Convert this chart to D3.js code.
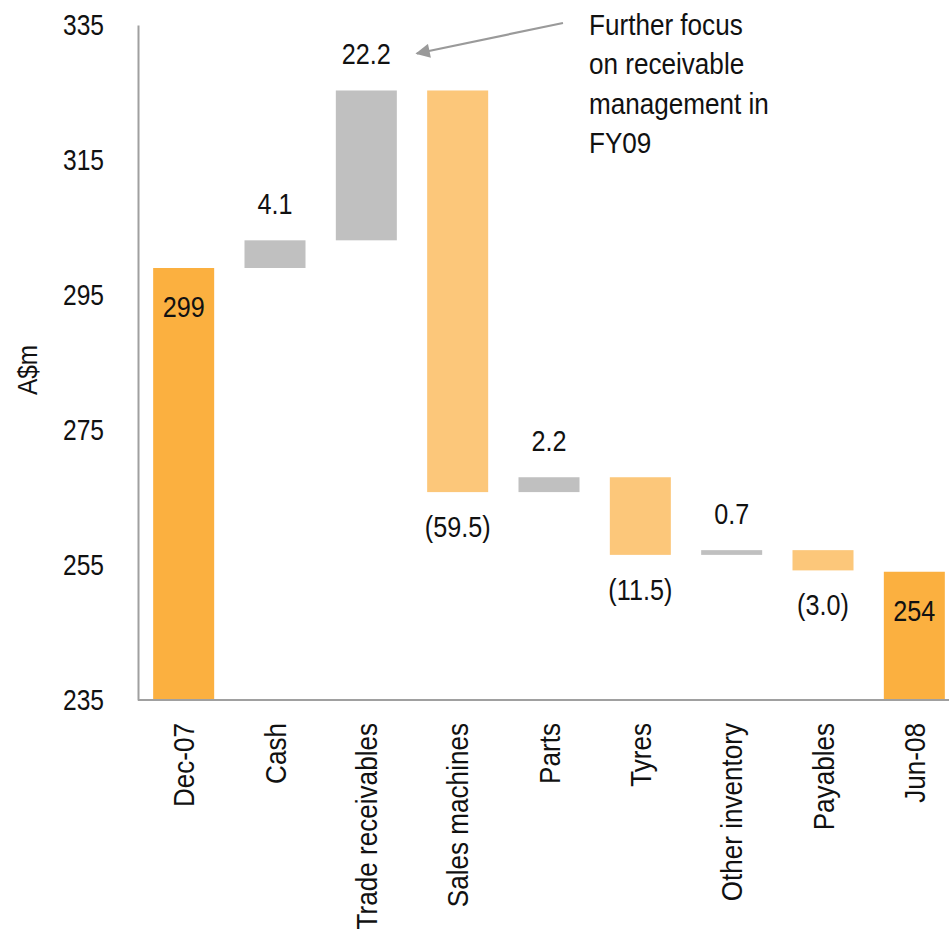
<!DOCTYPE html>
<html>
<head>
<meta charset="utf-8">
<script src="https://cdn.jsdelivr.net/npm/d3@7/dist/d3.min.js"></script>
<style>
  html, body { margin: 0; padding: 0; background: #fff; }
  svg { display: block; }
  text { font-family: "Liberation Sans Narrow", "Arial Narrow", "Liberation Sans", sans-serif; fill: #111; }
</style>
</head>
<body>
<svg id="chart" width="949" height="934"></svg>
<script>
// Working capital bridge, Dec-07 to Jun-08 (A$m)
const categories = ["Dec-07", "Cash", "Trade receivables", "Sales machines", "Parts", "Tyres", "Other inventory", "Payables", "Jun-08"];
const values     = [299, 4.1, 22.2, -59.5, 2.2, -11.5, 0.7, -3.0, 254];
const kinds      = ["total", "change", "change", "change", "change", "change", "change", "change", "total"];
const yTicks     = [235, 255, 275, 295, 315, 335];
const noteLines  = ["Further focus", "on receivable", "management in", "FY09"];
const noteTarget = "Trade receivables";

const colors = { total: "#FBB040", up: "#C0C0C0", down: "#FCC77A" };
const FONT = 30;

// Squeeze text horizontally (along its own baseline) to get a condensed face
function condense(sel, s) {
  sel.each(function () {
    const el = d3.select(this);
    const tx = +el.attr("x") || 0, ty = +el.attr("y") || 0;
    const base = el.attr("transform") || "";
    el.attr("transform", `${base} translate(${tx},${ty}) scale(${s},1) translate(${-tx},${-ty})`);
  });
}

// Running cumulative positions for each step
let running = 0;
const bars = categories.map((c, i) => {
  const v = values[i];
  let y0, y1;
  if (kinds[i] === "total") { y0 = d3.min(yTicks); y1 = v; running = v; }
  else { y0 = running; y1 = running + v; running = y1; }
  return { cat: c, value: v, kind: kinds[i], lo: Math.min(y0, y1), hi: Math.max(y0, y1) };
});

const svg = d3.select("#chart");
const x = d3.scaleBand().domain(categories).range([138, 960]).paddingInner(0.332).paddingOuter(0.166);
const y = d3.scaleLinear().domain([d3.min(yTicks), d3.max(yTicks)]).range([700, 25]);

// Bars
svg.append("g").selectAll("rect").data(bars).join("rect")
  .attr("x", d => x(d.cat))
  .attr("width", x.bandwidth())
  .attr("y", d => y(d.hi))
  .attr("height", d => y(d.lo) - y(d.hi))
  .attr("fill", d => d.kind === "total" ? colors.total : (d.value >= 0 ? colors.up : colors.down));

// Y axis
const yAxis = svg.append("g").attr("transform", "translate(138,0)")
  .call(d3.axisLeft(y).tickValues(yTicks).tickSize(0).tickPadding(34).tickFormat(d3.format("d")));
yAxis.select(".domain").attr("stroke", "#A0A0A0").attr("stroke-width", 2);
yAxis.selectAll("text").style("font-size", FONT + "px").attr("fill", "#111").call(condense, 0.82);

// X axis
const xAxis = svg.append("g").attr("transform", "translate(0,700)")
  .call(d3.axisBottom(x).tickSize(0).tickSizeOuter(0));
xAxis.select(".domain").attr("d", "M138,0H949").attr("stroke", "#A0A0A0").attr("stroke-width", 2);
xAxis.selectAll("text")
  .style("font-size", FONT + "px").attr("fill", "#111")
  .attr("text-anchor", "end")
  .attr("transform", "rotate(-90)")
  .attr("x", -23).attr("y", 0).attr("dy", "0.35em")
  .call(condense, 0.87);

// Y axis title
svg.append("text")
  .attr("transform", "translate(37,370) rotate(-90)")
  .attr("text-anchor", "middle")
  .style("font-size", "28px")
  .text("A$m")
  .call(condense, 0.87);

// Value labels
const fmtChange = v => v >= 0 ? d3.format(".1f")(v) : "(" + d3.format(".1f")(-v) + ")";
svg.append("g").selectAll("text").data(bars).join("text")
  .attr("x", d => x(d.cat) + x.bandwidth() / 2)
  .attr("y", d => {
    if (d.kind === "total") return y(d.hi) + 49;
    return d.value >= 0 ? y(d.hi) - 26 : y(d.lo) + 45;
  })
  .attr("text-anchor", "middle")
  .style("font-size", FONT + "px")
  .text(d => d.kind === "total" ? d3.format("d")(d.value) : fmtChange(d.value))
  .call(condense, 0.84);

// Callout with arrow pointing to the receivables label
svg.append("defs").append("marker")
  .attr("id", "arrowhead").attr("viewBox", "0 0 10 10")
  .attr("refX", 9).attr("refY", 5)
  .attr("markerWidth", 7).attr("markerHeight", 6.5)
  .attr("markerUnits", "strokeWidth").attr("orient", "auto")
  .append("path").attr("d", "M0,0L10,5L0,10Z").attr("fill", "#9A9A9A");

const tb = bars.find(b => b.cat === noteTarget);
const tipX = x(tb.cat) + x.bandwidth() + 20;
const tipY = y(tb.hi) - 37;
svg.append("line")
  .attr("x1", 563).attr("y1", 23)
  .attr("x2", tipX).attr("y2", tipY)
  .attr("stroke", "#9A9A9A").attr("stroke-width", 2.2)
  .attr("marker-end", "url(#arrowhead)");

svg.append("text")
  .attr("x", 589).attr("y", 35)
  .style("font-size", FONT + "px")
  .call(condense, 0.87)
  .selectAll("tspan").data(noteLines).join("tspan")
  .attr("x", 589).attr("dy", (d, i) => i === 0 ? 0 : 39.5)
  .text(d => d);
</script>
</body>
</html>
